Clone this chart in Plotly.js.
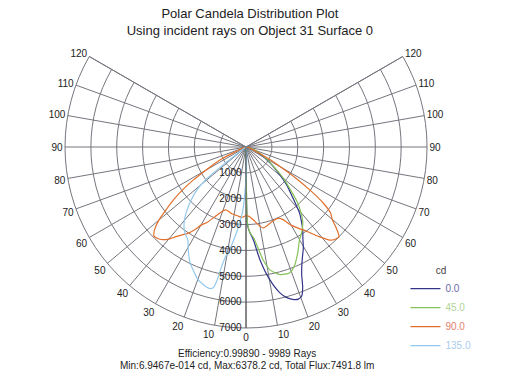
<!DOCTYPE html>
<html>
<head>
<meta charset="utf-8">
<script src="https://cdn.plot.ly/plotly-3.0.1.min.js"></script>
<style>html,body{margin:0;padding:0;background:#fff;}#chart{width:510px;height:380px;}</style>
</head>
<body>
<div id="chart"></div>
<script>
// Angular tick positions (degrees from nadir, counter-clockwise positive) and their labels
const angleTicks = [-120,-110,-100,-90,-80,-70,-60,-50,-40,-30,-20,-10,0,10,20,30,40,50,60,70,80,90,100,110,120];
const angleLabels = ["120","110","100","90","80","70","60","50","40","30","20","10","0","10","20","30","40","50","60","70","80","90","100","110","120"];
const radialTicks = [1000,2000,3000,4000,5000,6000,7000];
const radialLabels = ["1000","2000","3000","4000","5000","6000","7000"];

// Series names
const seriesNames = ["0.0","45.0","90.0","135.0"];

// Plane 0.0
const theta0 = [-90,-10,-2,0,0.5,1,2.5,4.5,7,10,13,15,17,19,20.5,22,23.5,25,27,29.5,32,34.5,37,39,43,47,51,56,64,75,90];
const cd0    = [0,0,50,300,1500,3000,3300,3600,4380,5180,5780,6020,6160,6220,6150,5850,5400,5100,4800,4500,4150,3870,3550,3290,2620,2150,1650,1150,560,150,0];

// Plane 45.0
const theta45 = [-90,-10,-2,0,0.5,1,2.5,5,8.5,11,15,19,22,26,30,33,37,40,43,46,50,55,60,70,80,90];
const cd45    = [0,0,50,300,1500,2900,3300,3550,4400,4840,5110,5150,4980,4560,4140,3950,3650,3300,2900,2400,1900,1300,900,400,100,0];

// Plane 90.0
const theta90 = [-90,-80,-70,-66,-64,-62,-60,-58,-56,-54,-52,-50,-48,-46,-44,-42,-40,-38,-36,-34,-32,-30,-27,-24,-21,-18,-15,-12,-9,-6,-3,0,3,6,9,12,15,18,21,24,27,30,33,36,39,42,44,46,48,50,52,54,56,58,60,62,64,66,70,80,90];
const cd90    = [0,60,200,450,1000,1400,1800,2400,2950,3450,3900,4400,4750,4950,4920,4820,4650,4400,4200,4030,3800,3500,3250,2950,2700,2560,2580,2640,2660,2700,2720,2650,2700,2850,3050,3200,3150,3080,3030,3020,3150,3500,3750,4050,4450,4850,4960,5000,4700,4350,4150,3700,3000,2260,1550,1100,700,420,250,80,0];

// Plane 135.0
const theta135 = [-90,-60,-55,-53,-52,-51,-49,-46,-43,-41,-38,-35,-32,-29,-26,-23,-20,-17,-14.5,-13,-12.3,-11.5,-10.5,-9,-7,-5,-3,-1,1,3,6,10,20,90];
const cd135    = [0,0,100,300,1200,2000,2500,2950,3350,3600,3900,4100,4250,4600,4950,5200,5450,5580,5650,5580,5300,4700,4300,4000,3500,3000,2500,1600,900,400,200,100,50,0];

const lineColors = ["#34348a","#86c25a","#e0702c","#92c8ea"];
const textColors = ["#6a6aa8","#b2d494","#e4806c","#a8cced"];

const thetas = [theta0, theta45, theta90, theta135];
const values = [cd0, cd45, cd90, cd135];

const traces = seriesNames.map((n, i) => ({
  type: "scatterpolar",
  mode: "lines",
  theta: thetas[i],
  r: values[i],
  name: '<span style="color:' + textColors[i] + '">' + n + '</span>',
  line: {color: lineColors[i], width: 1.2, shape: "spline", smoothing: 0.6},
  hoverinfo: "skip"
}));

const layout = {
  width: 510,
  height: 380,
  margin: {l: 0, r: 0, t: 0, b: 0},
  paper_bgcolor: "#ffffff",
  font: {family: "Liberation Sans, Arial, sans-serif", color: "#222", size: 10},
  title: {
    text: "Polar Candela Distribution Plot<br>Using incident rays on Object 31 Surface 0",
    x: 0.49, xanchor: "center", xref: "paper",
    y: 0.952, yanchor: "top", yref: "paper",
    font: {size: 13, color: "#222"}
  },
  polar: {
    domain: {x: [0.1275, 0.8373], y: [0.1368, 0.8513]},
    sector: [-210, 30],
    bgcolor: "#ffffff",
    angularaxis: {
      rotation: 270,
      direction: "counterclockwise",
      tickmode: "array",
      tickvals: angleTicks,
      ticktext: angleLabels,
      showgrid: true,
      gridcolor: "#75757e",
      gridwidth: 1,
      showline: true,
      linecolor: "#75757e",
      linewidth: 1,
      ticks: "",
      tickfont: {size: 10, color: "#222"}
    },
    radialaxis: {
      range: [0, 7000],
      angle: 270,
      tickmode: "array",
      tickvals: radialTicks,
      ticktext: radialLabels,
      showgrid: true,
      gridcolor: "#75757e",
      gridwidth: 1,
      showline: true,
      linecolor: "#555",
      linewidth: 1,
      ticks: "",
      tickangle: -90,
      tickfont: {size: 10, color: "#222"}
    }
  },
  showlegend: true,
  legend: {
    x: 0.795, xanchor: "left",
    y: 0.313, yanchor: "top",
    bgcolor: "rgba(0,0,0,0)",
    font: {size: 10},
    title: {text: '<span style="color:#444">cd</span>', side: "top center", font: {size: 10}},
    itemwidth: 30,
    tracegroupgap: 0
  },
  annotations: [
    {text: "Efficiency:0.99890 - 9989 Rays", x: 0.484, y: 1 - 353/380, xref: "paper", yref: "paper", yanchor: "middle", showarrow: false, font: {size: 10, color: "#222"}},
    {text: "Min:6.9467e-014 cd, Max:6378.2 cd, Total Flux:7491.8 lm", x: 0.484, y: 1 - 365/380, xref: "paper", yref: "paper", yanchor: "middle", showarrow: false, font: {size: 10, color: "#222"}}
  ]
};

Plotly.newPlot("chart", traces, layout, {staticPlot: true, displayModeBar: false});
</script>
</body>
</html>
